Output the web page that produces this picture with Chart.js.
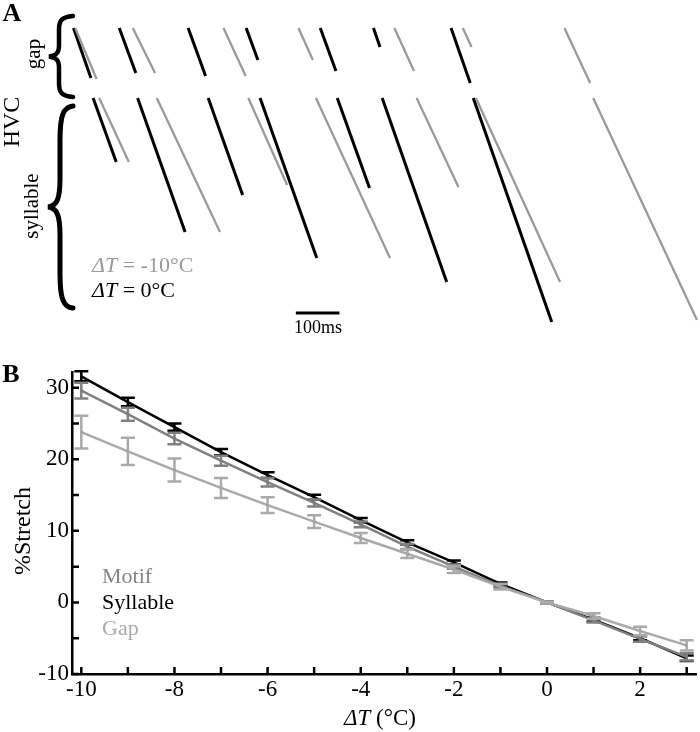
<!DOCTYPE html>
<html>
<head>
<meta charset="utf-8">
<script src="https://cdn.jsdelivr.net/npm/chart.js@4.4.1/dist/chart.umd.min.js"></script>
<style>
  body { margin:0; width:700px; height:732px; position:relative; background:#fff; overflow:hidden;
         font-family:"Liberation Serif","DejaVu Serif",serif; }
  .lbl { position:absolute; line-height:1; white-space:nowrap; transform:translate(-50%,-50%); }
  .lft { position:absolute; line-height:1; white-space:nowrap; transform:translate(0,-50%); }
  .rot { transform:translate(-50%,-50%) rotate(-90deg); }
  canvas { position:absolute; left:0; }
</style>
</head>
<body>
<canvas id="rasterA" width="700" height="340" style="top:0"></canvas>
<canvas id="stretchB" width="700" height="392" style="top:340px"></canvas>

<svg width="80" height="330" style="position:absolute;left:0;top:0" id="braces"></svg>

<div class="lbl" style="left:12px;top:13px;font-size:26px;font-weight:bold">A</div>
<div class="lbl rot" style="left:11px;top:122px;font-size:24px">HVC</div>
<div class="lbl rot" style="left:33px;top:54px;font-size:21px">gap</div>
<div class="lbl rot" style="left:31px;top:206px;font-size:21px">syllable</div>
<div class="lft" style="left:92px;top:265px;font-size:22px;color:#999"><i>ΔT</i> = -10°C</div>
<div class="lft" style="left:92px;top:290px;font-size:22px;color:#000"><i>ΔT</i> = 0°C</div>
<div class="lbl" style="left:318px;top:327px;font-size:18px">100ms</div>

<div class="lbl" style="left:11px;top:374px;font-size:26px;font-weight:bold">B</div>
<div class="lbl rot" style="left:22px;top:531px;font-size:24px">%Stretch</div>
<div class="lbl" style="left:380px;top:717px;font-size:23px"><i>ΔT</i> (°C)</div>
<div class="lft" style="left:102px;top:576px;font-size:22px;color:#858585">Motif</div>
<div class="lft" style="left:102px;top:602px;font-size:22px;color:#000">Syllable</div>
<div class="lft" style="left:102px;top:628px;font-size:22px;color:#aaaaaa">Gap</div>

<script>
// ---- panel A: sequences of HVC bursts, [onset ms, offset ms, last row]
const gapStartRow = 3;
const sylStartRow = 73;
const gapWarm = [[8,48,53],[113,151,48],[271,311,51],[404,431,35],[574,610,46],[696,711,22],[874,918,58]];
const gapCold = [[12,61,54],[144,195,48],[352,403,51],[524,557,35],[744,789,46],[901,921,22],[1134,1193,58]];
const sylWarm = [[53,106,137],[155,264,207],[317,396,170],[436,566,233],[613,687,163],[716,864,257],[925,1105,297]];
const sylCold = [[67,135,137],[199,344,207],[409,498,160],[564,734,233],[795,891,162],[931,1124,257],[1200,1438,295]];
const scaleBarStart = 518;
const scaleBarMs = 100;
const scaleBarRow = 288;

// ---- panel B: % stretch vs temperature change
const dT = [-10,-9,-8,-7,-6,-5,-4,-3,-2,-1,0,1,2,3];
const motif    = [29.6, 26.3, 22.9, 19.8, 16.8, 13.9, 10.9, 7.8, 5.0, 2.3, 0, -2.5, -5.1, -7.6];
const motifErr = [1.1, 0.9, 0.8, 0.7, 0.6, 0.5, 0.4, 0.35, 0.3, 0.25, 0.1, 0.3, 0.4, 0.5];
const syllable    = [31.6, 28.0, 24.5, 21.0, 17.8, 14.7, 11.5, 8.4, 5.6, 2.6, 0, -2.4, -5.0, -7.8];
const syllableErr = [0.7, 0.6, 0.5, 0.45, 0.4, 0.35, 0.3, 0.3, 0.25, 0.2, 0.1, 0.25, 0.3, 0.4];
const gap    = [23.8, 21.1, 18.5, 16.0, 13.6, 11.3, 9.0, 6.8, 4.6, 2.2, 0, -1.9, -4.0, -6.0];
const gapErr = [2.3, 1.9, 1.6, 1.4, 1.1, 0.9, 0.7, 0.6, 0.5, 0.4, 0.1, 0.4, 0.6, 0.7];
const xTickLabels = [-10,-8,-6,-4,-2,0,2];
const yTickLabels = [-10,0,10,20,30];

Chart.defaults.font.family = '"Liberation Serif","DejaVu Serif",serif';
Chart.defaults.color = '#000';

// braces
function bracePath(xr, xs, xt, y0, y1) {
  const h = y1 - y0, ym = (y0 + y1) / 2;
  return `M ${xr} ${y0} C ${xs+3} ${y0+1}, ${xs} ${y0+h*0.05}, ${xs} ${y0+h*0.17}` +
         ` L ${xs} ${ym-h*0.14} C ${xs} ${ym-h*0.04}, ${xs-3} ${ym-1}, ${xt} ${ym}` +
         ` C ${xs-3} ${ym+1}, ${xs} ${ym+h*0.04}, ${xs} ${ym+h*0.14}` +
         ` L ${xs} ${y1-h*0.17} C ${xs} ${y1-h*0.05}, ${xs+3} ${y1-1}, ${xr} ${y1}`;
}
document.getElementById('braces').innerHTML =
  `<path d="${bracePath(73,59,49,16,97)}" fill="none" stroke="#000" stroke-width="4.5" stroke-linecap="round"/>` +
  `<path d="${bracePath(73,60,48,106,308)}" fill="none" stroke="#000" stroke-width="5" stroke-linecap="round"/>`;

function segs(list, startRow, color, width) {
  return list.map(s => ({
    data: [{x: s[0], y: startRow}, {x: s[1], y: s[2]}],
    showLine: true, borderColor: color, borderWidth: width, pointRadius: 0
  }));
}

const scaleBar = {
  id: 'scaleBar',
  afterDraw(chart) {
    const {ctx, scales: {x, y}} = chart;
    const py = y.getPixelForValue(scaleBarRow);
    ctx.save();
    ctx.strokeStyle = '#000';
    ctx.lineWidth = 3;
    ctx.beginPath();
    ctx.moveTo(x.getPixelForValue(scaleBarStart), py);
    ctx.lineTo(x.getPixelForValue(scaleBarStart + scaleBarMs), py);
    ctx.stroke();
    ctx.restore();
  }
};

new Chart(document.getElementById('rasterA'), {
  type: 'scatter',
  data: {
    datasets: [
      ...segs(gapCold, gapStartRow, '#9a9a9a', 2.3),
      ...segs(sylCold, sylStartRow, '#9a9a9a', 2.3),
      ...segs(gapWarm, gapStartRow, '#000', 3),
      ...segs(sylWarm, sylStartRow, '#000', 3)
    ]
  },
  options: {
    responsive: false,
    animation: false,
    layout: { padding: { left: 70, top: 25, right: 0, bottom: 15 } },
    plugins: { legend: { display: false }, tooltip: { enabled: false } },
    scales: {
      x: { type: 'linear', min: 0, max: 1445, display: false },
      y: { type: 'linear', min: 0, max: 300, reverse: true, display: false }
    }
  },
  plugins: [scaleBar]
});

// error bars + inward ticks for panel B
const errorBars = {
  id: 'errorBars',
  afterDatasetDraw(chart, args) {
    const ds = chart.data.datasets[args.index];
    const {ctx, scales: {y}} = chart;
    ctx.save();
    ctx.strokeStyle = ds.borderColor;
    ctx.lineWidth = 2.5;
    args.meta.data.forEach((pt, i) => {
      const v = ds.data[i].y, e = ds.err[i];
      const t = y.getPixelForValue(v + e), b = y.getPixelForValue(v - e);
      ctx.beginPath();
      ctx.moveTo(pt.x, t); ctx.lineTo(pt.x, b);
      ctx.moveTo(pt.x - 7, t); ctx.lineTo(pt.x + 7, t);
      ctx.moveTo(pt.x - 7, b); ctx.lineTo(pt.x + 7, b);
      ctx.stroke();
    });
    ctx.restore();
  }
};

const innerTicks = {
  id: 'innerTicks',
  afterDraw(chart) {
    const {ctx, chartArea: a, scales: {x, y}} = chart;
    ctx.save();
    ctx.strokeStyle = '#000';
    ctx.lineWidth = 2.5;
    ctx.beginPath();
    dT.forEach(v => {
      const px = x.getPixelForValue(v);
      ctx.moveTo(px, a.bottom); ctx.lineTo(px, a.bottom - 7);
    });
    for (let v = -10; v <= 30; v += 5) {
      const py = y.getPixelForValue(v);
      ctx.moveTo(a.left, py); ctx.lineTo(a.left + 7, py);
    }
    ctx.stroke();
    ctx.restore();
  }
};

function series(vals, errs, color) {
  return {
    data: dT.map((t, i) => ({x: t, y: vals[i]})),
    err: errs,
    borderColor: color,
    borderWidth: 2.5,
    pointRadius: 1.3,
    pointBorderWidth: 0,
    pointBackgroundColor: '#444'
  };
}

new Chart(document.getElementById('stretchB'), {
  type: 'line',
  data: {
    datasets: [
      series(gap, gapErr, '#aaaaaa'),
      series(motif, motifErr, '#808080'),
      series(syllable, syllableErr, '#000000')
    ]
  },
  options: {
    responsive: false,
    animation: false,
    layout: { padding: { left: 0, top: 32, right: 0, bottom: 0 } },
    plugins: { legend: { display: false }, tooltip: { enabled: false } },
    scales: {
      x: {
        type: 'linear', min: -10.2, max: 3.2,
        afterBuildTicks: s => { s.ticks = xTickLabels.map(v => ({value: v})); },
        afterFit: s => { s.height = 58; },
        grid: { drawOnChartArea: false, drawTicks: false, color: 'rgba(0,0,0,0)' },
        border: { display: true, color: '#000', width: 2.5 },
        ticks: { font: { size: 23 }, padding: 2, autoSkip: false, maxRotation: 0 }
      },
      y: {
        type: 'linear', min: -10, max: 32.2,
        afterBuildTicks: s => { s.ticks = yTickLabels.map(v => ({value: v})); },
        afterFit: s => { s.width = 72; },
        grid: { drawOnChartArea: false, drawTicks: false, color: 'rgba(0,0,0,0)' },
        border: { display: true, color: '#000', width: 2.5 },
        ticks: { font: { size: 23 }, padding: 3, autoSkip: false }
      }
    }
  },
  plugins: [errorBars, innerTicks]
});
</script>
</body>
</html>
